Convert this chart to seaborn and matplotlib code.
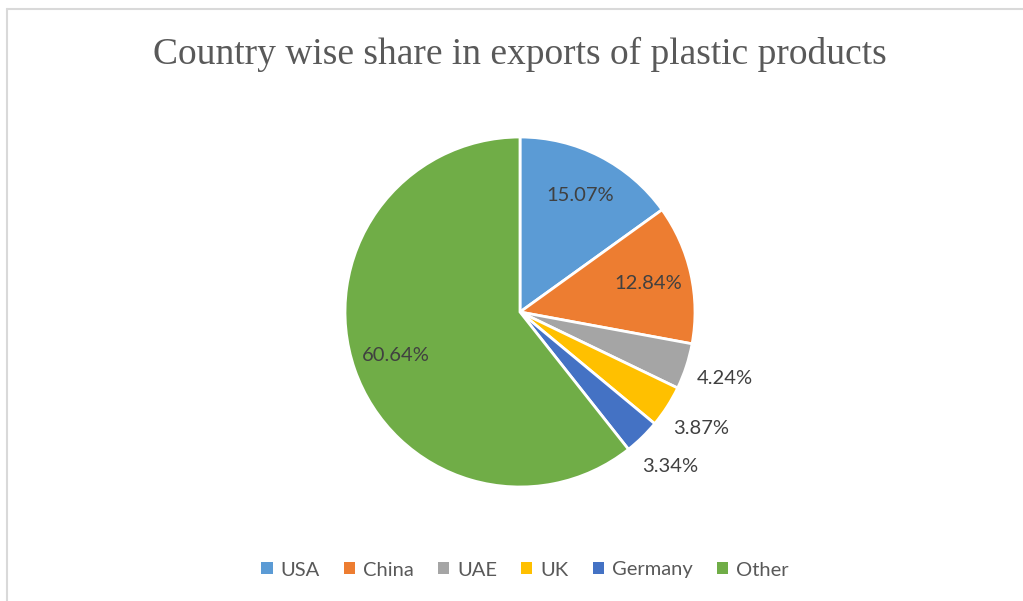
import numpy as np
import matplotlib
matplotlib.use("Agg")
import matplotlib.pyplot as plt
from matplotlib.lines import Line2D
from matplotlib.patches import Patch
import seaborn as sns

countries = ["USA", "China", "UAE", "UK", "Germany", "Other"]
shares = [15.07, 12.84, 4.24, 3.87, 3.34, 60.64]
label_texts = ["15.07%", "12.84%", "4.24%", "3.87%", "3.34%", "60.64%"]
colors = ["#5B9BD5", "#ED7D31", "#A5A5A5", "#FFC000", "#4472C4", "#70AD47"]
title = "Country wise share in exports of plastic products"

sns.set_theme(style="white")
palette = sns.color_palette(colors)

fig = plt.figure(figsize=(10.23, 6.01), dpi=100)
fig.patch.set_facecolor("white")

W, H = 1023, 601
cx, cy, r = 520, 312, 175
ax = fig.add_axes([(cx - r) / W, (H - cy - r) / H, 2 * r / W, 2 * r / H])
wedges, _ = ax.pie(shares, colors=palette, startangle=90, counterclock=False,
                   radius=1.0, wedgeprops=dict(edgecolor="white", linewidth=2))
ax.set_xlim(-1, 1)
ax.set_ylim(-1, 1)
ax.set_aspect("equal")
ax.axis("off")

for w, txt, s in zip(wedges, label_texts, shares):
    ang = np.deg2rad((w.theta1 + w.theta2) / 2)
    d = 0.75 if s > 10 else 1.23
    ax.text(d * np.cos(ang), d * np.sin(ang), txt, ha="center", va="center",
            fontsize=14.5, family=["Lato", "DejaVu Sans"], color="#404040")

fig.text(520 / W, 1 - 54 / H, title, ha="center", va="center", fontsize=27,
         family=["Liberation Serif", "DejaVu Serif"], color="#595959")

handles = [Patch(facecolor=c, edgecolor="none") for c in palette]
leg = fig.legend(handles, countries, loc="center", ncol=6,
                 bbox_to_anchor=(525 / W, 1 - 570 / H), frameon=False,
                 handlelength=0.55, handleheight=0.55, handletextpad=0.4,
                 columnspacing=1.2, prop={"family": "Lato", "size": 14.5})
for t in leg.get_texts():
    t.set_color("#595959")

fig.add_artist(Line2D([7 / W, 7 / W], [0, 1 - 9 / H], color="#d9d9d9", lw=1.5,
                      transform=fig.transFigure))
fig.add_artist(Line2D([7 / W, 1], [1 - 9 / H, 1 - 9 / H], color="#d9d9d9", lw=1.5,
                      transform=fig.transFigure))

fig.savefig("out.png", dpi=100, facecolor="white")
